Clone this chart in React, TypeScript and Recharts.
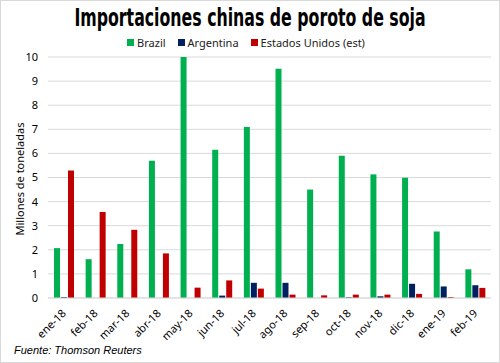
import { Bar, BarChart, CartesianGrid, Legend, XAxis, YAxis } from 'recharts';

const months = ['ene-18', 'feb-18', 'mar-18', 'abr-18', 'may-18', 'jun-18', 'jul-18', 'ago-18', 'sep-18', 'oct-18', 'nov-18', 'dic-18', 'ene-19', 'feb-19'];
const brazil = [2.07, 1.61, 2.24, 5.69, 10.0, 6.15, 7.1, 9.51, 4.5, 5.9, 5.13, 4.99, 2.76, 1.19];
const argentina = [0.04, 0, 0, 0, 0, 0.1, 0.63, 0.63, 0, 0.03, 0.07, 0.59, 0.48, 0.53];
const usa = [5.29, 3.57, 2.83, 1.85, 0.43, 0.73, 0.39, 0.14, 0.11, 0.14, 0.14, 0.17, 0.04, 0.42];
const yTicks = [0, 1, 2, 3, 4, 5, 6, 7, 8, 9, 10];

const series = [
  { key: 'brazil', name: 'Brazil', color: '#00b050' },
  { key: 'argentina', name: 'Argentina', color: '#002060' },
  { key: 'usa', name: 'Estados Unidos (est)', color: '#c00000' },
];

const data = months.map((m, i) => ({ month: m, brazil: brazil[i], argentina: argentina[i], usa: usa[i] }));

const font = '"Noto Sans", "Open Sans", sans-serif';

function MonthTick({ x, y, payload }: any) {
  return (
    <text
      x={x + 3}
      y={y + 8}
      transform={`rotate(-45, ${x + 3}, ${y + 8})`}
      textAnchor="end"
      fontSize={11}
      fontFamily={font}
      fill="#000"
    >
      {payload.value}
    </text>
  );
}

function LegendContent() {
  return (
    <div style={{ display: 'flex', justifyContent: 'center', gap: 12, fontFamily: font, fontSize: 11, color: '#222' }}>
      {series.map((s) => (
        <span key={s.key} style={{ display: 'flex', alignItems: 'center' }}>
          <span style={{ width: 7, height: 7, background: s.color, marginRight: 3, display: 'inline-block' }} />
          {s.name}
        </span>
      ))}
    </div>
  );
}

export default function App() {
  return (
    <div style={{ position: 'absolute', left: 0, top: 0, width: 498, height: 361, border: '1px solid #d9d9d9', background: '#fff' }}>
      <div
        style={{
          position: 'absolute',
          top: 3,
          width: '100%',
          textAlign: 'center',
          fontFamily: '"Liberation Sans Narrow", "DejaVu Sans Condensed", sans-serif',
          fontWeight: 700,
          fontSize: 24,
          color: '#000',
          transform: 'scaleX(0.73)',
          whiteSpace: 'nowrap',
        }}
      >
        Importaciones chinas de poroto de soja
      </div>
      <div
        style={{
          position: 'absolute',
          left: 18,
          top: 178,
          transform: 'translate(-50%, -50%) rotate(-90deg)',
          whiteSpace: 'nowrap',
          fontFamily: font,
          fontSize: 11,
          color: '#000',
        }}
      >
        Millones de toneladas
      </div>
      <BarChart
        width={498}
        height={361}
        data={data}
        margin={{ top: 41, right: 8, left: 0, bottom: 20 }}
        barSize={6}
        barGap={1}
      >
        <CartesianGrid vertical={false} stroke="#d9d9d9" />
        <XAxis
          dataKey="month"
          interval={0}
          height={44}
          tick={<MonthTick />}
          tickLine={false}
          axisLine={{ stroke: '#d9d9d9' }}
        />
        <YAxis
          domain={[0, 10]}
          ticks={yTicks}
          width={47}
          tickSize={0}
          tickMargin={10}
          axisLine={false}
          tick={{ fontSize: 11, fontFamily: font, fill: '#000' }}
        />
        <Legend verticalAlign="top" content={<LegendContent />} wrapperStyle={{ top: 34 }} />
        {series.map((s) => (
          <Bar key={s.key} dataKey={s.key} name={s.name} fill={s.color} isAnimationActive={false} />
        ))}
      </BarChart>
      <div
        style={{
          position: 'absolute',
          left: 13,
          top: 343,
          fontFamily: '"Liberation Sans", sans-serif',
          fontStyle: 'italic',
          fontSize: 11,
          color: '#000',
        }}
      >
        Fuente: Thomson Reuters
      </div>
    </div>
  );
}
